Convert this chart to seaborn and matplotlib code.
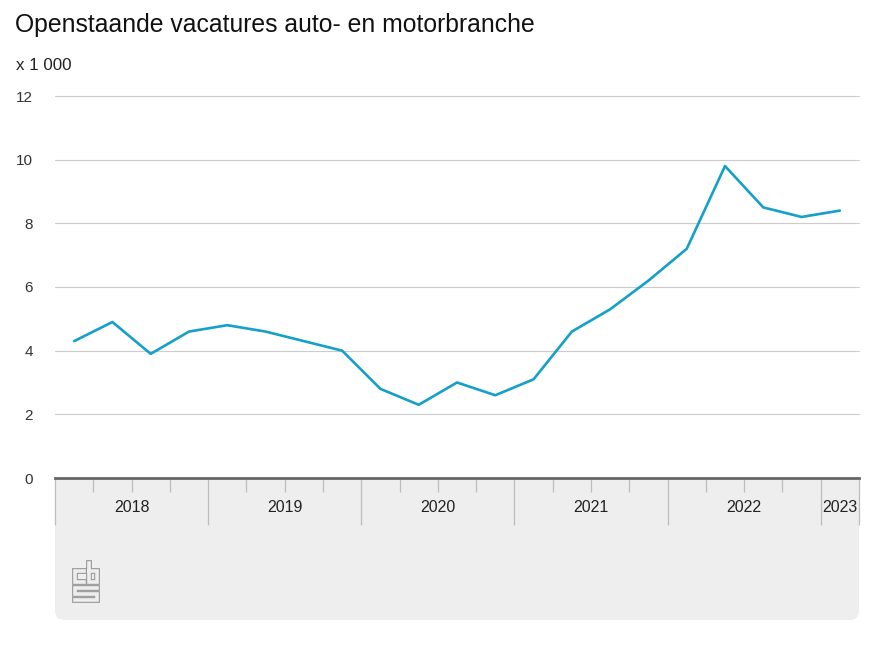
import numpy as np
import pandas as pd
import seaborn as sns
import matplotlib.pyplot as plt
from matplotlib.patches import FancyBboxPatch
from matplotlib.lines import Line2D
from matplotlib.transforms import IdentityTransform

# Openstaande vacatures (x 1 000), per kwartaal 2018 K1 t/m 2023 K1
years = ['2018', '2019', '2020', '2021', '2022', '2023']
quarters_per_year = [4, 4, 4, 4, 4, 1]
vacancies = [4.3, 4.9, 3.9, 4.6,
             4.8, 4.6, 4.3, 4.0,
             2.8, 2.3, 3.0, 2.6,
             3.1, 4.6, 5.3, 6.2,
             7.2, 9.8, 8.5, 8.2,
             8.4]
y_ticks = [0, 2, 4, 6, 8, 10, 12]

sns.set_style("white")
plt.rcParams['font.family'] = ['Liberation Sans', 'DejaVu Sans']

W, H = 874, 656
fig = plt.figure(figsize=(W / 100, H / 100), dpi=100)
ax = fig.add_axes([55 / W, 1 - 478 / H, 804 / W, 382 / H])
ax.set_facecolor('white')

df = pd.DataFrame({'kwartaal': np.arange(len(vacancies)), 'vacatures': vacancies})
sns.lineplot(data=df, x='kwartaal', y='vacatures', color='#14a0c9',
             linewidth=1.9, ax=ax, zorder=3)

ax.set_xlim(-0.5, len(vacancies) - 0.5)
ax.set_ylim(0, 12)
ax.set_yticks(y_ticks)
ax.set_yticklabels([str(t) for t in y_ticks])
ax.set_xticks([])
ax.set_xlabel('')
ax.set_ylabel('')
ax.yaxis.grid(True, color='#cccccc', linewidth=0.8)
for gl in ax.get_ygridlines():
    gl.set_clip_on(False)
ax.tick_params(axis='y', length=0, pad=16, labelsize=11, labelcolor='#333333')
for side in ['top', 'right', 'left']:
    ax.spines[side].set_visible(False)
ax.spines['bottom'].set_color('#666666')
ax.spines['bottom'].set_linewidth(2)
ax.spines['bottom'].set_zorder(4)

# grey panel under the axis
panel = FancyBboxPatch((55, 36), 804, 170, boxstyle="round,pad=0,rounding_size=9",
                       transform=IdentityTransform(), facecolor='#eeeeee',
                       edgecolor='none', zorder=-1)
fig.patches.append(panel)

# year separators and quarter ticks
xtrans = ax.get_xaxis_transform()
bounds = np.concatenate([[0], np.cumsum(quarters_per_year)]) - 0.5
ax.vlines(bounds, -47 / 382, 0, transform=xtrans, clip_on=False,
          color='#bdbdbd', linewidth=0.9)
qticks = [q - 0.5 for q in range(1, len(vacancies)) if (q - 0.5) not in bounds]
ax.vlines(qticks, -14 / 382, 0, transform=xtrans, clip_on=False,
          color='#bdbdbd', linewidth=0.9)
for yr, start, n in zip(years, bounds[:-1], quarters_per_year):
    ax.text(start + n / 2, -30 / 382, yr, transform=xtrans, ha='center',
            va='center', fontsize=11.5, color='#222222')

fig.text(15 / W, 1 - 25 / H, 'Openstaande vacatures auto- en motorbranche',
         fontsize=17.85, va='center', ha='left', color='#111111')
fig.text(16 / W, 1 - 65 / H, 'x 1 000', fontsize=12.2, va='center', ha='left',
         color='#222222')

# cbs logo (outlined strokes)
logo_strokes = [
    [(12, 9.5), (3, 9.5), (3, 20.5), (12, 20.5)],
    [(17, 2), (17, 20.5), (24.5, 20.5), (24.5, 9.5), (17, 9.5)],
    [(24.5, 27), (3, 27), (3, 33), (24.5, 33), (24.5, 39), (3, 39)],
]
ox, oy = 72, 561
for pts in logo_strokes:
    xs = [ox + p[0] for p in pts]
    ys = [H - (oy + p[1]) for p in pts]
    for lw, col in [(4.2, '#9a9a9a'), (2.6, '#eeeeee')]:
        fig.lines.append(Line2D(xs, ys, transform=IdentityTransform(), color=col,
                                linewidth=lw, solid_capstyle='projecting',
                                solid_joinstyle='miter'))

fig.savefig('out.png', dpi=100)
